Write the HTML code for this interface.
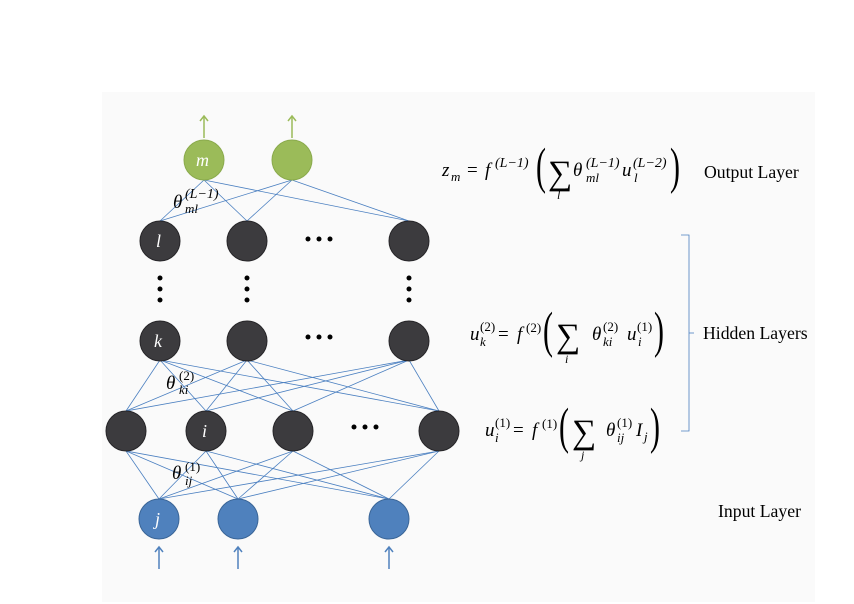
<!DOCTYPE html>
<html><head><meta charset="utf-8"><style>
html,body{margin:0;padding:0;background:#fff;}
svg{display:block;}
text{font-family:"Liberation Serif",serif;}
.it{font-style:italic;}
</style></head><body>
<svg width="854" height="604" viewBox="0 0 854 604" xmlns="http://www.w3.org/2000/svg">
<rect x="102" y="92" width="713" height="510" fill="#fafafa"/>
<g stroke="#4a7fc0" stroke-width="0.8" fill="none">
<line x1="204" y1="180" x2="160" y2="221"/><line x1="204" y1="180" x2="247" y2="221"/><line x1="204" y1="180" x2="409" y2="221"/>
<line x1="292" y1="180" x2="160" y2="221"/><line x1="292" y1="180" x2="247" y2="221"/><line x1="292" y1="180" x2="409" y2="221"/>
<line x1="160" y1="360" x2="126" y2="411"/><line x1="160" y1="360" x2="206" y2="411"/><line x1="160" y1="360" x2="293" y2="411"/><line x1="160" y1="360" x2="439" y2="411"/>
<line x1="247" y1="360" x2="126" y2="411"/><line x1="247" y1="360" x2="206" y2="411"/><line x1="247" y1="360" x2="293" y2="411"/><line x1="247" y1="360" x2="439" y2="411"/>
<line x1="409" y1="360" x2="126" y2="411"/><line x1="409" y1="360" x2="206" y2="411"/><line x1="409" y1="360" x2="293" y2="411"/><line x1="409" y1="360" x2="439" y2="411"/>
<line x1="126" y1="451" x2="159" y2="499"/><line x1="126" y1="451" x2="238" y2="499"/><line x1="126" y1="451" x2="389" y2="499"/>
<line x1="206" y1="451" x2="159" y2="499"/><line x1="206" y1="451" x2="238" y2="499"/><line x1="206" y1="451" x2="389" y2="499"/>
<line x1="293" y1="451" x2="159" y2="499"/><line x1="293" y1="451" x2="238" y2="499"/><line x1="293" y1="451" x2="389" y2="499"/>
<line x1="439" y1="451" x2="159" y2="499"/><line x1="439" y1="451" x2="238" y2="499"/><line x1="439" y1="451" x2="389" y2="499"/>
<polyline points="681,235 689,235 689,431 681,431"/>
<line x1="689" y1="333" x2="694" y2="333"/>
</g>
<g stroke="#9bbb59" stroke-width="1.5" fill="none">
<line x1="204" y1="138" x2="204" y2="116"/><polyline points="200,121 204,116 208,121"/>
<line x1="292" y1="138" x2="292" y2="116"/><polyline points="288,121 292,116 296,121"/>
</g>
<g stroke="#4f81bd" stroke-width="1.5" fill="none">
<line x1="159" y1="569" x2="159" y2="547"/><polyline points="155,552 159,547 163,552"/>
<line x1="238" y1="569" x2="238" y2="547"/><polyline points="234,552 238,547 242,552"/>
<line x1="389" y1="569" x2="389" y2="547"/><polyline points="385,552 389,547 393,552"/>
</g>
<g fill="#9bbb59" stroke="#8aaa4c" stroke-width="1">
<circle cx="204" cy="160" r="20"/><circle cx="292" cy="160" r="20"/>
</g>
<g fill="#3c3b3e" stroke="#262528" stroke-width="1">
<circle cx="160" cy="241" r="20"/><circle cx="247" cy="241" r="20"/><circle cx="409" cy="241" r="20"/>
<circle cx="160" cy="341" r="20"/><circle cx="247" cy="341" r="20"/><circle cx="409" cy="341" r="20"/>
<circle cx="126" cy="431" r="20"/><circle cx="206" cy="431" r="20"/><circle cx="293" cy="431" r="20"/><circle cx="439" cy="431" r="20"/>
</g>
<g fill="#4f81bd" stroke="#3a6597" stroke-width="1">
<circle cx="159" cy="519" r="20"/><circle cx="238" cy="519" r="20"/><circle cx="389" cy="519" r="20"/>
</g>
<g fill="#000">
<circle cx="308" cy="239" r="2.5"/><circle cx="319" cy="239" r="2.5"/><circle cx="330" cy="239" r="2.5"/>
<circle cx="308" cy="337" r="2.5"/><circle cx="319" cy="337" r="2.5"/><circle cx="330" cy="337" r="2.5"/>
<circle cx="354" cy="427" r="2.5"/><circle cx="365" cy="427" r="2.5"/><circle cx="376" cy="427" r="2.5"/>
<circle cx="160" cy="278" r="2.5"/><circle cx="160" cy="289" r="2.5"/><circle cx="160" cy="300" r="2.5"/>
<circle cx="247" cy="278" r="2.5"/><circle cx="247" cy="289" r="2.5"/><circle cx="247" cy="300" r="2.5"/>
<circle cx="409" cy="278" r="2.5"/><circle cx="409" cy="289" r="2.5"/><circle cx="409" cy="300" r="2.5"/>
</g>
<g fill="#fff" font-size="18">
<text x="196" y="166" class="it">m</text>
<text x="156" y="247" class="it">l</text>
<text x="154" y="347" class="it">k</text>
<text x="202" y="437" class="it">i</text>
<text x="155" y="525" class="it">j</text>
</g>
<g fill="#000">
<text x="173" y="208" font-size="19" class="it">θ</text><text x="185" y="198" font-size="14" class="it">(L−1)</text><text x="185" y="213" font-size="13" class="it">ml</text>
<text x="166" y="389" font-size="19" class="it">θ</text><text x="179" y="380" font-size="13">(2)</text><text x="179" y="394" font-size="13" class="it">ki</text>
<text x="172" y="479" font-size="19" class="it">θ</text><text x="185" y="471" font-size="13">(1)</text><text x="185" y="485" font-size="13" class="it">ij</text>
</g>
<g fill="#000">
<text x="442" y="176" font-size="19" class="it">z</text><text x="451" y="181" font-size="13" class="it">m</text>
<text x="467" y="176" font-size="19">=</text>
<text x="485" y="176" font-size="19" class="it">f</text><text x="495" y="167" font-size="14" class="it">(L−1)</text>
<text transform="translate(536,183) scale(1,1.7)" font-size="30">(</text>
<text x="548" y="184" font-size="34">∑</text><text x="557" y="199" font-size="12" class="it">l</text>
<text x="573" y="176" font-size="19" class="it">θ</text><text x="586" y="167" font-size="14" class="it">(L−1)</text><text x="586" y="182" font-size="13" class="it">ml</text>
<text x="622" y="176" font-size="19" class="it">u</text><text x="633" y="167" font-size="14" class="it">(L−2)</text><text x="634" y="182" font-size="13" class="it">l</text>
<text transform="translate(670,183) scale(1,1.7)" font-size="30">)</text>
<text x="704" y="178" font-size="17.7">Output Layer</text>
</g>
<g fill="#000">
<text x="470" y="340" font-size="19" class="it">u</text><text x="480" y="331" font-size="13">(2)</text><text x="480" y="346" font-size="13" class="it">k</text>
<text x="498" y="340" font-size="19">=</text>
<text x="517" y="340" font-size="19" class="it">f</text><text x="526" y="332" font-size="13">(2)</text>
<text transform="translate(543,347) scale(1,1.7)" font-size="30">(</text>
<text x="556" y="347" font-size="34">∑</text><text x="565" y="363" font-size="12" class="it">i</text>
<text x="592" y="340" font-size="19" class="it">θ</text><text x="603" y="331" font-size="13">(2)</text><text x="603" y="346" font-size="13" class="it">ki</text>
<text x="627" y="340" font-size="19" class="it">u</text><text x="637" y="331" font-size="13">(1)</text><text x="638" y="346" font-size="13" class="it">i</text>
<text transform="translate(654,347) scale(1,1.7)" font-size="30">)</text>
<text x="703" y="339" font-size="17.7">Hidden Layers</text>
</g>
<g fill="#000">
<text x="485" y="436" font-size="19" class="it">u</text><text x="495" y="427" font-size="13">(1)</text><text x="495" y="442" font-size="13" class="it">i</text>
<text x="513" y="436" font-size="19">=</text>
<text x="532" y="436" font-size="19" class="it">f</text><text x="542" y="428" font-size="13">(1)</text>
<text transform="translate(559,443) scale(1,1.7)" font-size="30">(</text>
<text x="572" y="443" font-size="34">∑</text><text x="581" y="459" font-size="12" class="it">j</text>
<text x="606" y="436" font-size="19" class="it">θ</text><text x="617" y="427" font-size="13">(1)</text><text x="617" y="442" font-size="13" class="it">ij</text>
<text x="636" y="436" font-size="19" class="it">I</text><text x="644" y="441" font-size="13" class="it">j</text>
<text transform="translate(650,443) scale(1,1.7)" font-size="30">)</text>
<text x="718" y="517" font-size="17.7">Input Layer</text>
</g>
</svg>
</body></html>
